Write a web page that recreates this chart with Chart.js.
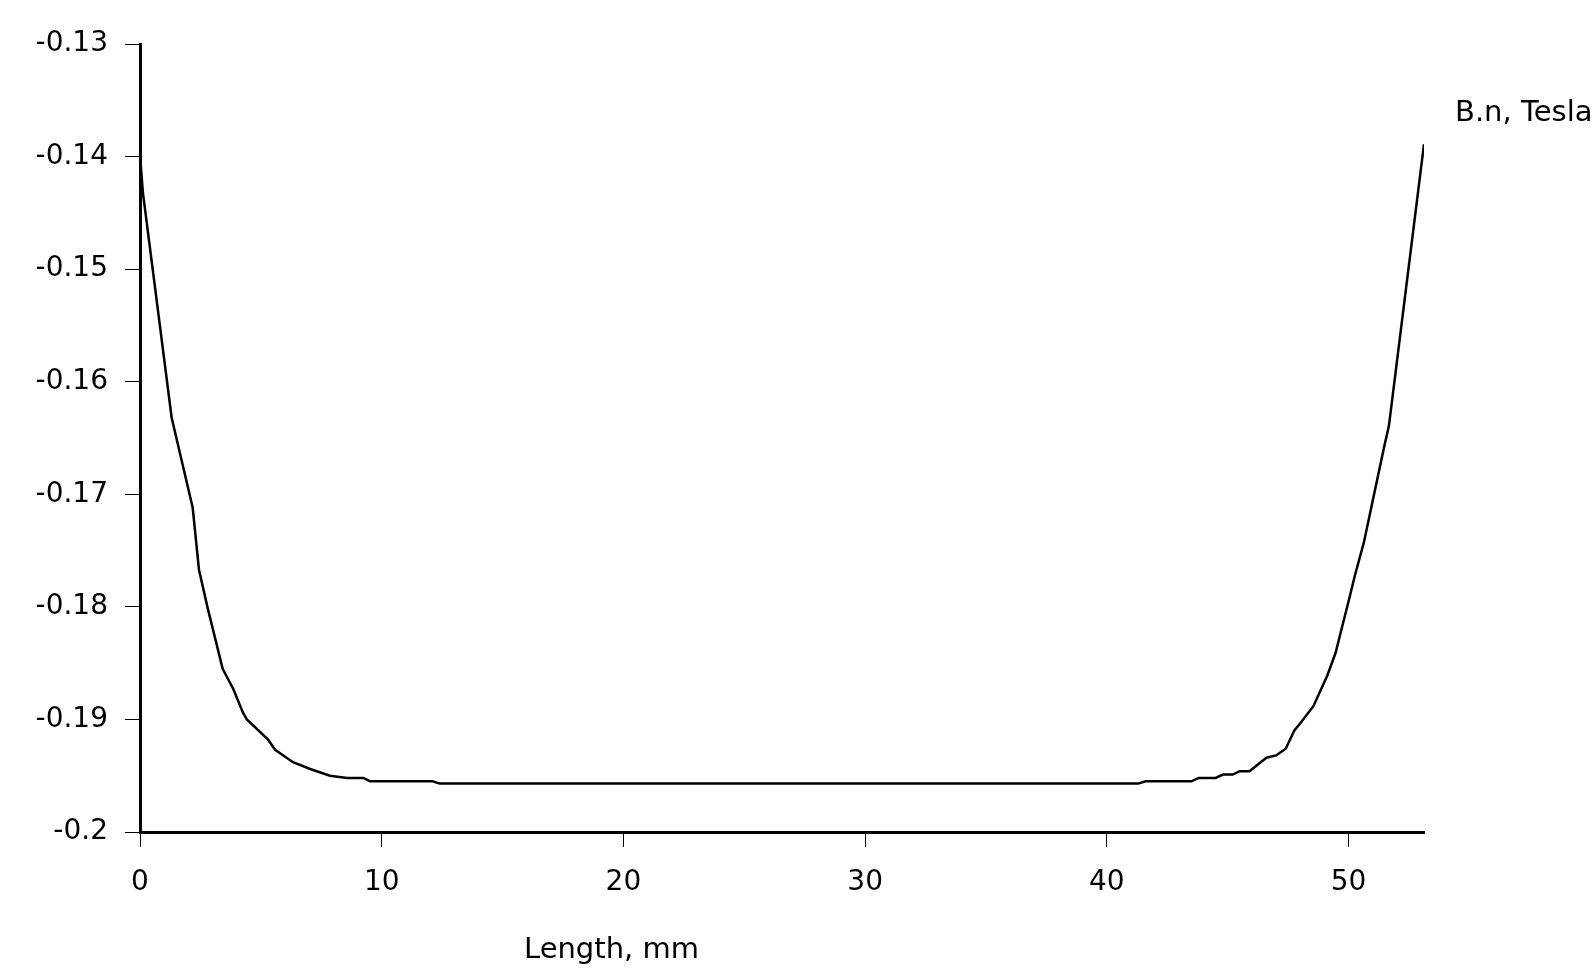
<!DOCTYPE html>
<html>
<head>
<meta charset="utf-8">
<script src="https://cdn.jsdelivr.net/npm/chart.js@4.4.1/dist/chart.umd.min.js"></script>
<style>
  html, body { margin: 0; padding: 0; background: #fff; }
  #wrap { width: 1593px; height: 977px; }
</style>
</head>
<body>
<div id="wrap"><canvas id="fieldChart" width="1593" height="977"></canvas></div>
<script>
// Length along the part (mm) and normal flux density (T)
const lengthMm = [0, 0.12, 1.31, 2.18, 2.44, 2.81, 3.42, 3.86, 4.26, 4.42,
    5.30, 5.59, 6.33, 7.04, 7.86, 8.56, 9.24, 9.52, 12.1, 12.4,
    41.3, 41.6, 43.5, 43.8, 44.5, 44.8, 45.2, 45.5, 45.9, 46.25,
    46.6, 47.0, 47.4, 47.75, 48.05, 48.55, 49.12, 49.46, 49.67, 50.0,
    50.25, 50.63, 51.46, 51.67, 53.12];
const fieldT = [-0.1399, -0.1432, -0.1632, -0.1712, -0.1767, -0.1802, -0.1855, -0.1873, -0.1894, -0.1900,
    -0.1918, -0.1927, -0.1938, -0.1944, -0.1950, -0.1952, -0.1952, -0.1955, -0.1955, -0.1957,
    -0.1957, -0.1955, -0.1955, -0.1952, -0.1952, -0.1949, -0.1949, -0.1946, -0.1946, -0.1940,
    -0.1934, -0.1932, -0.1926, -0.1910, -0.1902, -0.1888, -0.1861, -0.1841, -0.1823, -0.1795,
    -0.1773, -0.1743, -0.1659, -0.1639, -0.1389];

const xTicks = [0, 10, 20, 30, 40, 50];
const yTicks = [-0.2, -0.19, -0.18, -0.17, -0.16, -0.15, -0.14, -0.13];

const xTitle = 'Length, mm';
const seriesName = 'B.n, Tesla';

const FONT = 'DejaVu Sans';

// draws the two loose captions the way the original tool placed them
const captions = {
    id: 'captions',
    afterDraw(chart) {
        const ctx = chart.ctx;
        ctx.save();
        ctx.fillStyle = '#000';
        ctx.font = '29px "' + FONT + '"';
        ctx.textAlign = 'left';
        ctx.textBaseline = 'alphabetic';
        ctx.fillText(xTitle, 524, 958);
        ctx.fillText(seriesName, 1455, 121);
        ctx.restore();
    }
};

const points = lengthMm.map((x, i) => ({ x: x, y: fieldT[i] }));

new Chart(document.getElementById('fieldChart').getContext('2d'), {
    type: 'line',
    data: {
        datasets: [{
            label: seriesName,
            data: points,
            borderColor: '#000',
            borderWidth: 2.5,
            pointRadius: 0,
            tension: 0,
            fill: false
        }]
    },
    options: {
        responsive: false,
        animation: false,
        layout: { padding: { top: 44, right: 169, left: 0, bottom: 0 } },
        plugins: { legend: { display: false }, tooltip: { enabled: false } },
        scales: {
            x: {
                type: 'linear',
                min: 0,
                max: 53.12,
                afterBuildTicks: s => { s.ticks = xTicks.map(v => ({ value: v })); },
                afterFit: s => { s.height = 145; },
                grid: { drawOnChartArea: false, tickLength: 15, tickWidth: 1, tickColor: '#000' },
                border: { display: true, color: '#000', width: 3 },
                ticks: { color: '#000', padding: 19, font: { family: FONT, size: 28 }, maxRotation: 0 }
            },
            y: {
                type: 'linear',
                min: -0.2,
                max: -0.13,
                afterBuildTicks: s => { s.ticks = yTicks.map(v => ({ value: v })); },
                afterFit: s => { s.width = 140; },
                grid: { drawOnChartArea: false, tickLength: 15, tickWidth: 1, tickColor: '#000' },
                border: { display: true, color: '#000', width: 3 },
                ticks: {
                    color: '#000',
                    padding: 17,
                    font: { family: FONT, size: 28 },
                    callback: v => String(Number(v.toFixed(2)))
                }
            }
        }
    },
    plugins: [captions]
});
</script>
</body>
</html>
